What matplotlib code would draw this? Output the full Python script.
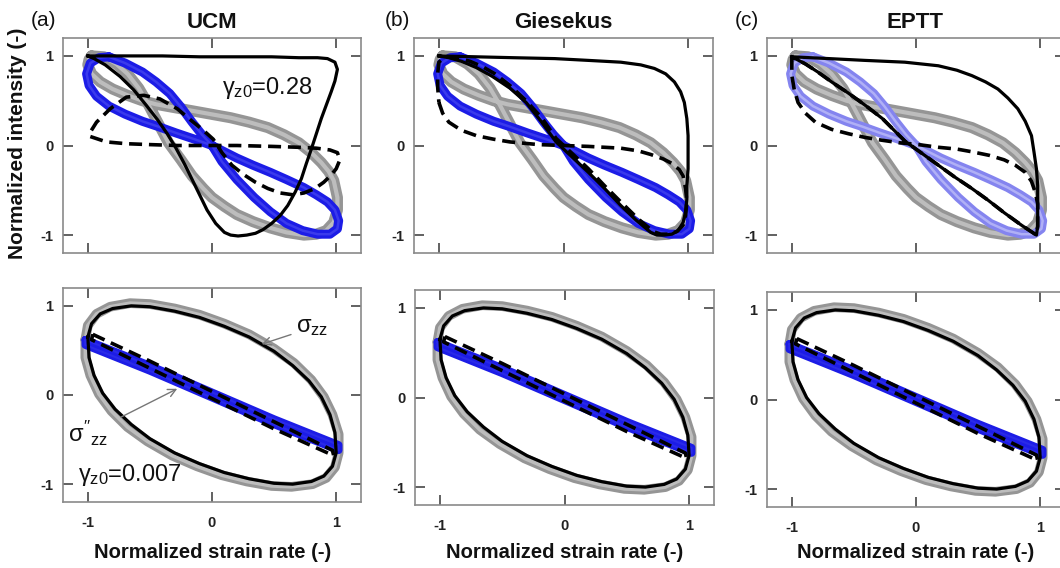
import matplotlib
matplotlib.use("Agg")
import matplotlib.pyplot as plt

plt.rcParams['font.family'] = ['Liberation Sans', 'DejaVu Sans']
plt.rcParams['mathtext.fontset'] = 'custom'
plt.rcParams['mathtext.rm'] = 'Liberation Sans'
plt.rcParams['mathtext.it'] = 'Liberation Sans'
plt.rcParams['mathtext.bf'] = 'Liberation Sans:bold'

# ---- data (normalized strain rate, normalized intensity) ----

# experimental, large amplitude (top row, same in all three panels)
GRAY_TOP = [(-0.97, 1.0), (-0.87, 0.99), (-0.77, 0.91), (-0.68, 0.80), (-0.59, 0.64),
            (-0.51, 0.45), (-0.43, 0.24), (-0.35, 0.03), (-0.25, -0.16), (-0.16, -0.34),
            (-0.07, -0.48), (0.0, -0.58), (0.10, -0.68), (0.20, -0.77), (0.33, -0.85),
            (0.47, -0.92), (0.60, -0.97), (0.74, -1.0), (0.84, -0.99), (0.92, -0.95),
            (0.98, -0.86), (1.01, -0.72), (1.01, -0.58), (0.98, -0.39), (0.94, -0.29),
            (0.88, -0.19), (0.80, -0.08), (0.70, 0.03), (0.58, 0.12), (0.45, 0.20),
            (0.30, 0.26), (0.15, 0.31), (-0.05, 0.36), (-0.29, 0.42), (-0.45, 0.46),
            (-0.56, 0.50), (-0.68, 0.56), (-0.80, 0.63), (-0.90, 0.71), (-0.97, 0.80),
            (-1.0, 0.90), (-0.99, 0.96), (-0.97, 1.0)]

BLUE_TOP = [(-0.83, 0.99), (-0.70, 0.92), (-0.56, 0.82), (-0.45, 0.71), (-0.34, 0.58),
            (-0.25, 0.43), (-0.16, 0.26), (-0.08, 0.12), (0.0, 0.0), (0.08, -0.18),
            (0.20, -0.38), (0.34, -0.58), (0.47, -0.74), (0.60, -0.87), (0.73, -0.95),
            (0.85, -0.99), (0.95, -0.99), (1.01, -0.93), (1.02, -0.84), (0.99, -0.72),
            (0.93, -0.63), (0.84, -0.55), (0.74, -0.47), (0.60, -0.38), (0.47, -0.30),
            (0.33, -0.22), (0.20, -0.14), (0.10, -0.07), (0.0, 0.0), (-0.14, 0.07),
            (-0.29, 0.14), (-0.43, 0.21), (-0.56, 0.27), (-0.70, 0.35), (-0.83, 0.44),
            (-0.93, 0.55), (-0.99, 0.67), (-1.01, 0.80), (-0.98, 0.92), (-0.91, 0.98),
            (-0.83, 0.99)]

# model predictions, large amplitude
UCM_SOLID = [(-1.0, 1.0), (-0.7, 1.0), (-0.4, 1.0), (-0.1, 0.99), (0.2, 0.99), (0.48, 0.99),
             (0.7, 0.98), (0.85, 0.98), (0.93, 0.97), (0.99, 0.93), (1.01, 0.85), (0.99, 0.72),
             (0.96, 0.60), (0.92, 0.45), (0.88, 0.30), (0.84, 0.13), (0.80, -0.04), (0.76, -0.20),
             (0.72, -0.37), (0.67, -0.52), (0.61, -0.67), (0.55, -0.78), (0.48, -0.87),
             (0.41, -0.94), (0.35, -0.98), (0.28, -1.0), (0.21, -1.01), (0.15, -1.0),
             (0.10, -0.97), (0.03, -0.87), (-0.04, -0.72), (-0.10, -0.55), (-0.16, -0.38),
             (-0.22, -0.21), (-0.29, -0.03), (-0.36, 0.13), (-0.44, 0.29), (-0.53, 0.45),
             (-0.63, 0.62), (-0.74, 0.77), (-0.86, 0.90), (-0.95, 0.97), (-1.0, 1.0)]

UCM_DASH = [(-0.98, 0.10), (-0.85, 0.04), (-0.69, 0.02), (-0.50, 0.01), (-0.28, 0.0),
            (-0.06, 0.0), (0.2, 0.0), (0.48, -0.01), (0.70, -0.02), (0.84, -0.03),
            (0.95, -0.05), (1.01, -0.08), (1.03, -0.16), (1.0, -0.26), (0.96, -0.33),
            (0.90, -0.41), (0.83, -0.48), (0.74, -0.53), (0.65, -0.55), (0.55, -0.53),
            (0.45, -0.48), (0.35, -0.41), (0.25, -0.32), (0.16, -0.22), (0.08, -0.08),
            (0.01, 0.07), (-0.07, 0.17), (-0.15, 0.26), (-0.28, 0.41), (-0.42, 0.52),
            (-0.55, 0.56), (-0.69, 0.54), (-0.82, 0.41), (-0.93, 0.26), (-0.98, 0.15),
            (-0.98, 0.10)]

GIES_SOLID = [(-1.0, 1.0), (-0.7, 0.99), (-0.4, 0.98), (-0.07, 0.97), (0.2, 0.95), (0.46, 0.93),
              (0.62, 0.90), (0.73, 0.86), (0.82, 0.80), (0.89, 0.71), (0.94, 0.60), (0.97, 0.48),
              (0.99, 0.30), (1.0, 0.11), (1.0, -0.08), (1.0, -0.26), (0.99, -0.45), (0.99, -0.60),
              (0.98, -0.74), (0.96, -0.86), (0.92, -0.95), (0.87, -0.99), (0.81, -1.0),
              (0.75, -1.0), (0.70, -0.97), (0.58, -0.83), (0.46, -0.67), (0.33, -0.48),
              (0.20, -0.30), (0.07, -0.13), (-0.06, 0.04), (-0.18, 0.27), (-0.30, 0.48),
              (-0.43, 0.64), (-0.57, 0.77), (-0.70, 0.87), (-0.82, 0.94), (-0.92, 0.98),
              (-1.0, 1.0)]

GIES_DASH = [(-1.0, 0.48), (-0.97, 0.36), (-0.92, 0.26), (-0.82, 0.17), (-0.70, 0.11),
             (-0.56, 0.07), (-0.43, 0.04), (-0.2, 0.01), (0.0, 0.0), (0.20, -0.01),
             (0.46, -0.03), (0.60, -0.06), (0.70, -0.10), (0.80, -0.15), (0.87, -0.20),
             (0.93, -0.27), (0.96, -0.34), (0.98, -0.48), (0.99, -0.63), (0.98, -0.78),
             (0.96, -0.89), (0.91, -0.96), (0.85, -0.99), (0.78, -0.99), (0.72, -0.96),
             (0.60, -0.82), (0.46, -0.63), (0.33, -0.45), (0.20, -0.26), (0.07, -0.09),
             (-0.06, 0.08), (-0.17, 0.30), (-0.30, 0.50), (-0.43, 0.67), (-0.55, 0.80),
             (-0.65, 0.88), (-0.75, 0.94), (-0.85, 0.98), (-0.95, 0.99), (-1.0, 0.93),
             (-1.01, 0.80), (-1.01, 0.65), (-1.0, 0.48)]

EPTT_SOLID = [(-1.0, 0.99), (-0.7, 0.97), (-0.41, 0.95), (-0.09, 0.93), (0.18, 0.89),
              (0.33, 0.84), (0.45, 0.78), (0.56, 0.71), (0.66, 0.63), (0.74, 0.53),
              (0.82, 0.41), (0.88, 0.27), (0.93, 0.11), (0.95, -0.07), (0.97, -0.26),
              (0.98, -0.45), (0.98, -0.63), (0.98, -0.78), (0.98, -0.90), (0.97, -1.0),
              (0.85, -0.89), (0.71, -0.75), (0.58, -0.61), (0.45, -0.48), (0.31, -0.35),
              (0.18, -0.22), (0.05, -0.09), (-0.09, 0.05), (-0.27, 0.30), (-0.41, 0.45),
              (-0.55, 0.59), (-0.68, 0.71), (-0.79, 0.82), (-0.89, 0.91), (-1.0, 0.99)]

EPTT_DASH = [(-1.0, 0.99), (-1.0, 0.90), (-1.0, 0.78), (-0.98, 0.62), (-0.95, 0.48),
             (-0.89, 0.36), (-0.81, 0.26), (-0.68, 0.18), (-0.54, 0.13), (-0.41, 0.09),
             (-0.28, 0.06), (-0.13, 0.03), (0.02, 0.01), (0.18, -0.02), (0.33, -0.04),
             (0.45, -0.07), (0.59, -0.11), (0.71, -0.16), (0.80, -0.22), (0.88, -0.30),
             (0.93, -0.40), (0.96, -0.52), (0.98, -0.65), (0.98, -0.78), (0.98, -0.90),
             (0.97, -1.0), (0.85, -0.89), (0.71, -0.75), (0.58, -0.61), (0.45, -0.48),
             (0.31, -0.35), (0.18, -0.22), (0.05, -0.09), (-0.09, 0.05), (-0.27, 0.30),
             (-0.41, 0.45), (-0.55, 0.59), (-0.68, 0.71), (-0.79, 0.82), (-0.89, 0.91),
             (-1.0, 0.99)]

# small amplitude (bottom row)
GRAY_BOT = [(-1.02, 0.62), (-1.0, 0.78), (-0.93, 0.91), (-0.82, 0.99), (-0.66, 1.03),
            (-0.50, 1.02), (-0.30, 0.97), (-0.10, 0.90), (0.10, 0.80), (0.30, 0.68),
            (0.50, 0.52), (0.66, 0.36), (0.80, 0.17), (0.90, -0.02), (0.97, -0.22),
            (1.02, -0.44), (1.02, -0.65), (0.99, -0.81), (0.92, -0.93), (0.81, -1.0),
            (0.64, -1.03), (0.48, -1.02), (0.28, -0.97), (0.08, -0.90), (-0.12, -0.80),
            (-0.32, -0.68), (-0.52, -0.52), (-0.68, -0.36), (-0.81, -0.18), (-0.91, 0.01),
            (-0.98, 0.22), (-1.02, 0.42), (-1.02, 0.62)]

BLUE_BOT = [(-1.02, 0.62), (-0.5, 0.33), (0.0, 0.03), (0.5, -0.27), (1.02, -0.56),
            (1.02, -0.62), (0.5, -0.33), (0.0, -0.03), (-0.5, 0.27), (-1.02, 0.56),
            (-1.02, 0.62)]

ELL_SOLID = [(-1.0, 0.65), (-0.97, 0.80), (-0.90, 0.91), (-0.80, 0.97), (-0.65, 1.0),
             (-0.50, 0.99), (-0.30, 0.94), (-0.10, 0.87), (0.10, 0.77), (0.30, 0.65),
             (0.50, 0.49), (0.65, 0.33), (0.78, 0.16), (0.88, -0.02), (0.95, -0.22),
             (0.99, -0.42), (1.0, -0.65), (0.97, -0.80), (0.90, -0.91), (0.80, -0.97),
             (0.65, -1.0), (0.50, -0.99), (0.30, -0.94), (0.10, -0.87), (-0.10, -0.77),
             (-0.30, -0.65), (-0.50, -0.49), (-0.65, -0.33), (-0.78, -0.16), (-0.88, 0.02),
             (-0.95, 0.22), (-0.99, 0.42), (-1.0, 0.65)]

ELL_DASH = [(-0.96, 0.68), (-0.5, 0.38), (0.0, 0.04), (0.5, -0.30), (0.97, -0.62),
            (0.98, -0.68), (0.5, -0.38), (0.0, -0.04), (-0.5, 0.30), (-0.97, 0.62),
            (-0.96, 0.68)]

TITLES = ['UCM', 'Giesekus', 'EPTT']
LETTERS = ['(a)', '(b)', '(c)']
MODELS = [(UCM_SOLID, UCM_DASH), (GIES_SOLID, GIES_DASH), (EPTT_SOLID, EPTT_DASH)]
TICKS = [-1, 0, 1]
TICK_LABELS = ['-1', '0', '1']

# ---- drawing ----
W, H = 1060, 568
fig = plt.figure(figsize=(10.6, 5.68), dpi=100)


def px_axes(left, top, right, bottom):
    return fig.add_axes([left / W, 1 - bottom / H, (right - left) / W, (bottom - top) / H])


def band(ax, pts, color, inner, lw, ilw):
    x, y = zip(*pts)
    ax.plot(x, y, color=color, lw=lw, solid_joinstyle='round', solid_capstyle='round')
    ax.plot(x, y, color=inner, lw=ilw, solid_joinstyle='round', solid_capstyle='round')


def line(ax, pts, dashed=False):
    x, y = zip(*pts)
    if dashed:
        ax.plot(x, y, color='black', lw=2.6, ls=(0, (3.6, 1.9)))
    else:
        ax.plot(x, y, color='black', lw=2.3, solid_joinstyle='round')


def style(ax, bottom_row):
    ax.set_xlim(-1.2, 1.2)
    ax.set_ylim(-1.2, 1.2)
    ax.set_xticks(TICKS)
    ax.set_yticks(TICKS)
    ax.set_yticklabels(TICK_LABELS)
    if bottom_row:
        ax.set_xticklabels(TICK_LABELS)
    else:
        ax.set_xticklabels([])
    ax.tick_params(direction='in', length=7, width=1.3, color='#555555',
                   top=True, right=True, labelsize=10.5, pad=7)
    ax.tick_params(axis='x', pad=10)
    for lab in ax.get_xticklabels() + ax.get_yticklabels():
        lab.set_fontweight('bold')
        lab.set_color('#222222')
    for sp in ax.spines.values():
        sp.set_color('#8a8a8a')
        sp.set_linewidth(1.2)


top_boxes = [(63, 38, 361, 253), (414, 38, 713, 253), (767, 38, 1065, 253)]
bot_boxes = [(63, 288, 361, 502), (415, 290, 714, 505), (767, 292, 1065, 507)]
blue_cols = [('#1c1ce6', '#3a3aec'), ('#1c1ce6', '#3a3aec'), ('#8484ef', '#b0b0f6')]

for i in range(3):
    ax = px_axes(*top_boxes[i])
    band(ax, GRAY_TOP, '#959595', '#bdbdbd', 8, 3)
    band(ax, BLUE_TOP, blue_cols[i][0], blue_cols[i][1], 6.5, 1.8)
    line(ax, MODELS[i][1], dashed=True)
    line(ax, MODELS[i][0])
    style(ax, False)
    cx = (top_boxes[i][0] + top_boxes[i][2]) / 2
    if i == 2:
        cx = 915
    fig.text(cx / W, 1 - 22 / H, TITLES[i], ha='center', va='center',
             fontsize=16, fontweight='bold', color='#111111')
    lx = [44, 397, 747][i]
    fig.text(lx / W, 1 - 20 / H, LETTERS[i], ha='center', va='center',
             fontsize=15, color='#111111')
    if i == 0:
        ax.text(0.08, 0.58, r'$\gamma_{z0}$=0.28', fontsize=17, color='#111111',
                ha='left', va='baseline')

    axb = px_axes(*bot_boxes[i])
    band(axb, GRAY_BOT, '#959595', '#bdbdbd', 7, 2.6)
    band(axb, BLUE_BOT, '#1c1ce6', '#2a2ae8', 5.5, 1.5)
    line(axb, ELL_DASH, dashed=True)
    line(axb, ELL_SOLID)
    style(axb, True)
    cxb = [213, 565, 916][i]
    fig.text(cxb / W, 1 - 553 / H, 'Normalized strain rate (-)', ha='center', va='center',
             fontsize=14.5, fontweight='bold', color='#111111')
    if i == 0:
        axb.annotate(r'$\sigma_{zz}$', xy=(0.40, 0.57), xytext=(0.68, 0.70),
                     fontsize=17, color='#111111', ha='left', va='baseline',
                     arrowprops=dict(arrowstyle='->', color='#777777', lw=1.0,
                                     shrinkA=2, shrinkB=0, mutation_scale=14))
        axb.annotate(r"$\sigma''_{zz}$", xy=(-0.28, 0.07), xytext=(-1.16, -0.53),
                     fontsize=17, color='#111111', ha='left', va='baseline',
                     arrowprops=dict(arrowstyle='->', color='#777777', lw=1.0,
                                     shrinkA=8, shrinkB=0, mutation_scale=14))
        axb.text(-1.08, -0.97, r'$\gamma_{z0}$=0.007', fontsize=17, color='#111111',
                 ha='left', va='baseline')

fig.text(18 / W, 1 - 143 / H, 'Normalized intensity (-)', rotation=90, ha='center',
         va='center', fontsize=15, fontweight='bold', color='#111111')

fig.savefig('out.png', dpi=100)
